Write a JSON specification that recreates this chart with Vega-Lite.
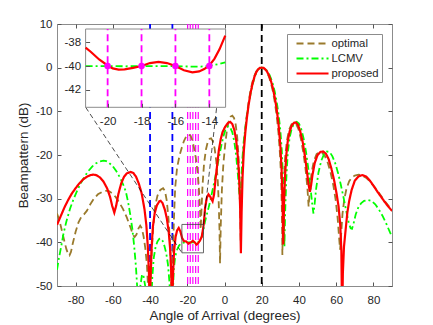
{
  "$schema": "https://vega.github.io/schema/vega-lite/v6.json",
  "width": 335,
  "height": 262,
  "autosize": {"type": "none"},
  "padding": {"left": 57, "top": 24, "right": 41, "bottom": 39},
  "background": "white",
  "config": {
    "font": "Liberation Sans",
    "view": {"stroke": "#8c8c8c", "strokeWidth": 1},
    "axis": {
      "labelFont": "Liberation Sans", "labelFontSize": 11.5, "labelColor": "#262626",
      "titleFont": "Liberation Sans", "titleFontSize": 13.4, "titleFontWeight": "normal", "titleColor": "#262626",
      "domainColor": "#8c8c8c", "tickColor": "#555555", "tickSize": -4, "grid": false,
      "labelExpr": "replace(datum.label, '−', '-')"
    },
    "legend": {
      "orient": "top-right", "offset": 10, "symbolType": "M0,0H6", "symbolSize": 114,
      "symbolStrokeWidth": 2, "labelFont": "Liberation Sans", "labelFontSize": 11.3, "labelColor": "#262626",
      "strokeColor": "#8c8c8c", "fillColor": "white", "padding": 3, "rowPadding": 3, "labelOffset": 28.5
    }
  },
  "datasets": {
    "curves": [
      {"s":"optimal","x":-90,"y":-33.4},{"s":"optimal","x":-89,"y":-34.6},{"s":"optimal","x":-88,"y":-36.2},{"s":"optimal","x":-87,"y":-38},{"s":"optimal","x":-86,"y":-39.8},{"s":"optimal","x":-85,"y":-41.5},{"s":"optimal","x":-84,"y":-42.7},{"s":"optimal","x":-83.3,"y":-43},{"s":"optimal","x":-82.5,"y":-42.2},{"s":"optimal","x":-81.5,"y":-40.2},{"s":"optimal","x":-80,"y":-37.6},{"s":"optimal","x":-78.5,"y":-35.5},{"s":"optimal","x":-77,"y":-34.2},{"s":"optimal","x":-75.5,"y":-33.6},{"s":"optimal","x":-74,"y":-32.8},{"s":"optimal","x":-72,"y":-31.2},{"s":"optimal","x":-70,"y":-29.9},{"s":"optimal","x":-68,"y":-29},{"s":"optimal","x":-66,"y":-28.5},{"s":"optimal","x":-64,"y":-28.2},{"s":"optimal","x":-62.3,"y":-28.2},{"s":"optimal","x":-60.5,"y":-28.7},{"s":"optimal","x":-58.5,"y":-29.6},{"s":"optimal","x":-56.5,"y":-30.9},{"s":"optimal","x":-54.5,"y":-32.4},{"s":"optimal","x":-52.5,"y":-34.3},{"s":"optimal","x":-50.5,"y":-36.6},{"s":"optimal","x":-49.2,"y":-38.3},{"s":"optimal","x":-48.3,"y":-38.8},{"s":"optimal","x":-47.3,"y":-38.2},{"s":"optimal","x":-46.2,"y":-36.8},{"s":"optimal","x":-45.3,"y":-36.2},{"s":"optimal","x":-44.4,"y":-36.8},{"s":"optimal","x":-43.5,"y":-38.6},{"s":"optimal","x":-42.6,"y":-41.2},{"s":"optimal","x":-41.7,"y":-45},{"s":"optimal","x":-41,"y":-51},{"s":"optimal","x":-40.5,"y":-58},{"s":"optimal","x":-39.8,"y":-50},{"s":"optimal","x":-39.1,"y":-42},{"s":"optimal","x":-38.3,"y":-36.5},{"s":"optimal","x":-37.2,"y":-31.5},{"s":"optimal","x":-36,"y":-29.3},{"s":"optimal","x":-34.5,"y":-28},{"s":"optimal","x":-33,"y":-27.6},{"s":"optimal","x":-32,"y":-28.2},{"s":"optimal","x":-31,"y":-30.5},{"s":"optimal","x":-30.1,"y":-34.5},{"s":"optimal","x":-29.3,"y":-40},{"s":"optimal","x":-28.7,"y":-47},{"s":"optimal","x":-28.3,"y":-57},{"s":"optimal","x":-27.8,"y":-45},{"s":"optimal","x":-27.2,"y":-35},{"s":"optimal","x":-26.5,"y":-27.5},{"s":"optimal","x":-25.5,"y":-23},{"s":"optimal","x":-24.2,"y":-20.2},{"s":"optimal","x":-23,"y":-18.4},{"s":"optimal","x":-21.8,"y":-16.8},{"s":"optimal","x":-20.5,"y":-15.7},{"s":"optimal","x":-19.3,"y":-15.3},{"s":"optimal","x":-18.2,"y":-15.6},{"s":"optimal","x":-17.3,"y":-16.6},{"s":"optimal","x":-16.3,"y":-18.5},{"s":"optimal","x":-15.3,"y":-21},{"s":"optimal","x":-14.4,"y":-24},{"s":"optimal","x":-13.7,"y":-28},{"s":"optimal","x":-13.1,"y":-33},{"s":"optimal","x":-12.8,"y":-37},{"s":"optimal","x":-12.4,"y":-33},{"s":"optimal","x":-11.8,"y":-27},{"s":"optimal","x":-11,"y":-22},{"s":"optimal","x":-10,"y":-18.8},{"s":"optimal","x":-9,"y":-17},{"s":"optimal","x":-8,"y":-16.3},{"s":"optimal","x":-7.2,"y":-16.2},{"s":"optimal","x":-6.3,"y":-16.8},{"s":"optimal","x":-5.3,"y":-18.5},{"s":"optimal","x":-4.4,"y":-21.5},{"s":"optimal","x":-3.6,"y":-26},{"s":"optimal","x":-3.1,"y":-31},{"s":"optimal","x":-2.7,"y":-37},{"s":"optimal","x":-2.4,"y":-44.8},{"s":"optimal","x":-2,"y":-36},{"s":"optimal","x":-1.4,"y":-28},{"s":"optimal","x":-0.6,"y":-22},{"s":"optimal","x":0.4,"y":-17.5},{"s":"optimal","x":1.3,"y":-14.3},{"s":"optimal","x":2.3,"y":-12.2},{"s":"optimal","x":3.3,"y":-11.2},{"s":"optimal","x":4.2,"y":-11},{"s":"optimal","x":5.1,"y":-11.5},{"s":"optimal","x":6,"y":-13},{"s":"optimal","x":6.8,"y":-15.8},{"s":"optimal","x":7.5,"y":-20},{"s":"optimal","x":8,"y":-25},{"s":"optimal","x":8.4,"y":-31},{"s":"optimal","x":8.7,"y":-40},{"s":"optimal","x":9,"y":-31},{"s":"optimal","x":9.5,"y":-24},{"s":"optimal","x":10.2,"y":-18.5},{"s":"optimal","x":11,"y":-14.5},{"s":"optimal","x":12,"y":-10.8},{"s":"optimal","x":13,"y":-7.7},{"s":"optimal","x":14,"y":-5.2},{"s":"optimal","x":15,"y":-3.3},{"s":"optimal","x":16,"y":-1.9},{"s":"optimal","x":17,"y":-0.9},{"s":"optimal","x":18,"y":-0.3},{"s":"optimal","x":19,"y":-0.05},{"s":"optimal","x":20,"y":0},{"s":"optimal","x":21,"y":-0.1},{"s":"optimal","x":22,"y":-0.5},{"s":"optimal","x":23,"y":-1.2},{"s":"optimal","x":24,"y":-2.2},{"s":"optimal","x":25,"y":-3.6},{"s":"optimal","x":26,"y":-5.4},{"s":"optimal","x":27,"y":-7.8},{"s":"optimal","x":28,"y":-10.9},{"s":"optimal","x":29,"y":-15},{"s":"optimal","x":29.8,"y":-19.7},{"s":"optimal","x":30.4,"y":-25},{"s":"optimal","x":30.8,"y":-32},{"s":"optimal","x":31.1,"y":-42.9},{"s":"optimal","x":31.5,"y":-31},{"s":"optimal","x":32,"y":-25},{"s":"optimal","x":32.6,"y":-20.5},{"s":"optimal","x":33.5,"y":-16.8},{"s":"optimal","x":34.7,"y":-14.2},{"s":"optimal","x":36,"y":-13},{"s":"optimal","x":37.3,"y":-12.6},{"s":"optimal","x":38.5,"y":-12.9},{"s":"optimal","x":39.7,"y":-14},{"s":"optimal","x":41,"y":-16.2},{"s":"optimal","x":42.3,"y":-19.3},{"s":"optimal","x":43.5,"y":-23},{"s":"optimal","x":44.5,"y":-27.3},{"s":"optimal","x":45.2,"y":-31.8},{"s":"optimal","x":45.9,"y":-27.5},{"s":"optimal","x":46.8,"y":-24},{"s":"optimal","x":48,"y":-21.4},{"s":"optimal","x":49.5,"y":-19.8},{"s":"optimal","x":51,"y":-19.3},{"s":"optimal","x":52.5,"y":-19.5},{"s":"optimal","x":54,"y":-20.3},{"s":"optimal","x":55.5,"y":-21.8},{"s":"optimal","x":57,"y":-24},{"s":"optimal","x":58.5,"y":-27},{"s":"optimal","x":59.8,"y":-30.5},{"s":"optimal","x":60.8,"y":-34.5},{"s":"optimal","x":61.5,"y":-38.5},{"s":"optimal","x":62.1,"y":-41.7},{"s":"optimal","x":62.7,"y":-38},{"s":"optimal","x":63.4,"y":-33.5},{"s":"optimal","x":64.3,"y":-30.3},{"s":"optimal","x":65.5,"y":-27.8},{"s":"optimal","x":67,"y":-26},{"s":"optimal","x":68.5,"y":-25.1},{"s":"optimal","x":70,"y":-24.7},{"s":"optimal","x":72,"y":-24.5},{"s":"optimal","x":74,"y":-24.7},{"s":"optimal","x":76,"y":-25.2},{"s":"optimal","x":78,"y":-26},{"s":"optimal","x":80,"y":-27},{"s":"optimal","x":82,"y":-28.1},{"s":"optimal","x":84,"y":-29.3},{"s":"optimal","x":86,"y":-30.5},{"s":"optimal","x":88,"y":-31.6},{"s":"optimal","x":90,"y":-32.8},

      {"s":"LCMV","x":-90,"y":-46.3},{"s":"LCMV","x":-89,"y":-43.7},{"s":"LCMV","x":-88,"y":-41.5},{"s":"LCMV","x":-86.5,"y":-38},{"s":"LCMV","x":-85,"y":-35.3},{"s":"LCMV","x":-83,"y":-32.3},{"s":"LCMV","x":-81,"y":-30},{"s":"LCMV","x":-79,"y":-28},{"s":"LCMV","x":-77,"y":-26.3},{"s":"LCMV","x":-75,"y":-24.8},{"s":"LCMV","x":-73,"y":-23.6},{"s":"LCMV","x":-71,"y":-22.6},{"s":"LCMV","x":-69,"y":-21.9},{"s":"LCMV","x":-67,"y":-21.5},{"s":"LCMV","x":-65,"y":-21.3},{"s":"LCMV","x":-63.5,"y":-21.4},{"s":"LCMV","x":-62,"y":-21.8},{"s":"LCMV","x":-60,"y":-22.6},{"s":"LCMV","x":-58,"y":-23.8},{"s":"LCMV","x":-56,"y":-25.3},{"s":"LCMV","x":-54.5,"y":-26.7},{"s":"LCMV","x":-53,"y":-28.4},{"s":"LCMV","x":-51.7,"y":-31},{"s":"LCMV","x":-50.5,"y":-34},{"s":"LCMV","x":-49.5,"y":-37},{"s":"LCMV","x":-48.5,"y":-41},{"s":"LCMV","x":-47.6,"y":-45.5},{"s":"LCMV","x":-46.8,"y":-51},{"s":"LCMV","x":-46,"y":-56},{"s":"LCMV","x":-45.2,"y":-50},{"s":"LCMV","x":-44.3,"y":-47.3},{"s":"LCMV","x":-43.5,"y":-47.8},{"s":"LCMV","x":-42.6,"y":-50},{"s":"LCMV","x":-41.8,"y":-54},{"s":"LCMV","x":-41,"y":-60},{"s":"LCMV","x":-39.4,"y":-55},{"s":"LCMV","x":-38.8,"y":-48},{"s":"LCMV","x":-38,"y":-43.5},{"s":"LCMV","x":-37,"y":-41},{"s":"LCMV","x":-36,"y":-39.8},{"s":"LCMV","x":-35,"y":-39.2},{"s":"LCMV","x":-34.3,"y":-39.1},{"s":"LCMV","x":-33.3,"y":-39.6},{"s":"LCMV","x":-32.3,"y":-40.8},{"s":"LCMV","x":-31.3,"y":-42.5},{"s":"LCMV","x":-30.4,"y":-45},{"s":"LCMV","x":-29.6,"y":-49},{"s":"LCMV","x":-29,"y":-55},{"s":"LCMV","x":-28.4,"y":-60},{"s":"LCMV","x":-27.8,"y":-52},{"s":"LCMV","x":-27.2,"y":-46},{"s":"LCMV","x":-26.5,"y":-43.3},{"s":"LCMV","x":-25.6,"y":-41.8},{"s":"LCMV","x":-24.5,"y":-40.8},{"s":"LCMV","x":-23.5,"y":-40.3},{"s":"LCMV","x":-22.5,"y":-40.1},{"s":"LCMV","x":-21.3,"y":-40},{"s":"LCMV","x":-20,"y":-40},{"s":"LCMV","x":-18,"y":-40},{"s":"LCMV","x":-16,"y":-40},{"s":"LCMV","x":-14.5,"y":-40.05},{"s":"LCMV","x":-13.5,"y":-39.8},{"s":"LCMV","x":-12.5,"y":-39},{"s":"LCMV","x":-11.5,"y":-37.5},{"s":"LCMV","x":-10.5,"y":-35.3},{"s":"LCMV","x":-9.5,"y":-33.6},{"s":"LCMV","x":-8.5,"y":-32},{"s":"LCMV","x":-7.5,"y":-30.2},{"s":"LCMV","x":-6.5,"y":-28.2},{"s":"LCMV","x":-5.5,"y":-26.2},{"s":"LCMV","x":-4.5,"y":-24},{"s":"LCMV","x":-3.5,"y":-21.8},{"s":"LCMV","x":-2.5,"y":-19.5},{"s":"LCMV","x":-1.5,"y":-17.4},{"s":"LCMV","x":-0.5,"y":-15.6},{"s":"LCMV","x":0.5,"y":-14.2},{"s":"LCMV","x":1.8,"y":-13.4},{"s":"LCMV","x":3,"y":-13.6},{"s":"LCMV","x":4.2,"y":-14.8},{"s":"LCMV","x":5.3,"y":-17},{"s":"LCMV","x":6.3,"y":-20.3},{"s":"LCMV","x":7.2,"y":-24.5},{"s":"LCMV","x":7.9,"y":-28.5},{"s":"LCMV","x":8.4,"y":-31},{"s":"LCMV","x":8.9,"y":-27},{"s":"LCMV","x":9.5,"y":-21.5},{"s":"LCMV","x":10.3,"y":-17},{"s":"LCMV","x":11.2,"y":-13.7},{"s":"LCMV","x":12,"y":-11.2},{"s":"LCMV","x":13,"y":-8.4},{"s":"LCMV","x":14,"y":-6},{"s":"LCMV","x":15,"y":-4},{"s":"LCMV","x":16,"y":-2.4},{"s":"LCMV","x":17,"y":-1.2},{"s":"LCMV","x":18,"y":-0.45},{"s":"LCMV","x":19,"y":-0.1},{"s":"LCMV","x":20,"y":0},{"s":"LCMV","x":21,"y":-0.05},{"s":"LCMV","x":22,"y":-0.3},{"s":"LCMV","x":23,"y":-0.8},{"s":"LCMV","x":24,"y":-1.5},{"s":"LCMV","x":25,"y":-2.5},{"s":"LCMV","x":26,"y":-3.8},{"s":"LCMV","x":27,"y":-5.5},{"s":"LCMV","x":28,"y":-7.7},{"s":"LCMV","x":29,"y":-10.5},{"s":"LCMV","x":30,"y":-14.3},{"s":"LCMV","x":30.8,"y":-19},{"s":"LCMV","x":31.5,"y":-26},{"s":"LCMV","x":31.9,"y":-33},{"s":"LCMV","x":32.2,"y":-41},{"s":"LCMV","x":32.6,"y":-33},{"s":"LCMV","x":33.2,"y":-25.5},{"s":"LCMV","x":34,"y":-19.5},{"s":"LCMV","x":35,"y":-16},{"s":"LCMV","x":36.2,"y":-13.8},{"s":"LCMV","x":37.5,"y":-12.7},{"s":"LCMV","x":38.8,"y":-12.4},{"s":"LCMV","x":40,"y":-12.8},{"s":"LCMV","x":41.2,"y":-14},{"s":"LCMV","x":42.5,"y":-16.2},{"s":"LCMV","x":43.8,"y":-19.3},{"s":"LCMV","x":45,"y":-23},{"s":"LCMV","x":46.2,"y":-27.5},{"s":"LCMV","x":47.2,"y":-31.5},{"s":"LCMV","x":47.8,"y":-33.4},{"s":"LCMV","x":48.4,"y":-31.3},{"s":"LCMV","x":49.3,"y":-27.5},{"s":"LCMV","x":50.5,"y":-24},{"s":"LCMV","x":52,"y":-21.3},{"s":"LCMV","x":53.5,"y":-19.8},{"s":"LCMV","x":55,"y":-19.2},{"s":"LCMV","x":56.5,"y":-19.3},{"s":"LCMV","x":58,"y":-20.3},{"s":"LCMV","x":59.5,"y":-21.9},{"s":"LCMV","x":61,"y":-24.1},{"s":"LCMV","x":62.5,"y":-26.8},{"s":"LCMV","x":64,"y":-29.8},{"s":"LCMV","x":65.5,"y":-33},{"s":"LCMV","x":66.8,"y":-35.6},{"s":"LCMV","x":67.8,"y":-36.8},{"s":"LCMV","x":68.5,"y":-36.9},{"s":"LCMV","x":69.3,"y":-35.8},{"s":"LCMV","x":70.5,"y":-33.6},{"s":"LCMV","x":72,"y":-31.9},{"s":"LCMV","x":73.5,"y":-31},{"s":"LCMV","x":75,"y":-30.5},{"s":"LCMV","x":77,"y":-30.3},{"s":"LCMV","x":79,"y":-30.5},{"s":"LCMV","x":81,"y":-31.3},{"s":"LCMV","x":83,"y":-32.5},{"s":"LCMV","x":85,"y":-34},{"s":"LCMV","x":87,"y":-35.8},{"s":"LCMV","x":89,"y":-37.8},{"s":"LCMV","x":90,"y":-38.7},

      {"s":"proposed","x":-90,"y":-36},{"s":"proposed","x":-88,"y":-34},{"s":"proposed","x":-86,"y":-32},{"s":"proposed","x":-84,"y":-30.3},{"s":"proposed","x":-82,"y":-28.8},{"s":"proposed","x":-80,"y":-27.6},{"s":"proposed","x":-78,"y":-26.5},{"s":"proposed","x":-76,"y":-25.6},{"s":"proposed","x":-74,"y":-25},{"s":"proposed","x":-72,"y":-24.6},{"s":"proposed","x":-70.5,"y":-24.5},{"s":"proposed","x":-69,"y":-24.6},{"s":"proposed","x":-67,"y":-25.1},{"s":"proposed","x":-65,"y":-26.1},{"s":"proposed","x":-63,"y":-27.7},{"s":"proposed","x":-61.5,"y":-29.6},{"s":"proposed","x":-60.3,"y":-31.7},{"s":"proposed","x":-59.2,"y":-33.2},{"s":"proposed","x":-58.2,"y":-31.6},{"s":"proposed","x":-57,"y":-28.9},{"s":"proposed","x":-55.5,"y":-26.5},{"s":"proposed","x":-54,"y":-25},{"s":"proposed","x":-52.5,"y":-24.2},{"s":"proposed","x":-50.5,"y":-23.9},{"s":"proposed","x":-49,"y":-24.1},{"s":"proposed","x":-47.5,"y":-25},{"s":"proposed","x":-46,"y":-26.6},{"s":"proposed","x":-44.5,"y":-28.8},{"s":"proposed","x":-43,"y":-32.4},{"s":"proposed","x":-42,"y":-36},{"s":"proposed","x":-41.2,"y":-41},{"s":"proposed","x":-40.6,"y":-47},{"s":"proposed","x":-40.2,"y":-56},{"s":"proposed","x":-39.7,"y":-48},{"s":"proposed","x":-39.2,"y":-41.5},{"s":"proposed","x":-38.5,"y":-36.5},{"s":"proposed","x":-37.5,"y":-33.3},{"s":"proposed","x":-36.3,"y":-31.5},{"s":"proposed","x":-35,"y":-30.6},{"s":"proposed","x":-34.3,"y":-30.5},{"s":"proposed","x":-33.3,"y":-31},{"s":"proposed","x":-32,"y":-32.6},{"s":"proposed","x":-31,"y":-34.5},{"s":"proposed","x":-30,"y":-37.5},{"s":"proposed","x":-29.2,"y":-41.5},{"s":"proposed","x":-28.6,"y":-47},{"s":"proposed","x":-28.2,"y":-56},{"s":"proposed","x":-27.7,"y":-48},{"s":"proposed","x":-27.1,"y":-42},{"s":"proposed","x":-26.3,"y":-38.8},{"s":"proposed","x":-25.5,"y":-37.3},{"s":"proposed","x":-24.6,"y":-36.7},{"s":"proposed","x":-23.7,"y":-37.5},{"s":"proposed","x":-22.8,"y":-39},{"s":"proposed","x":-21.8,"y":-39.7},{"s":"proposed","x":-20.6,"y":-39.8},{"s":"proposed","x":-19.4,"y":-40.3},{"s":"proposed","x":-18,"y":-40},{"s":"proposed","x":-17,"y":-39.65},{"s":"proposed","x":-16,"y":-40},{"s":"proposed","x":-15,"y":-40.5},{"s":"proposed","x":-14,"y":-40.1},{"s":"proposed","x":-13.2,"y":-39.6},{"s":"proposed","x":-12.2,"y":-38.7},{"s":"proposed","x":-11.2,"y":-36},{"s":"proposed","x":-10.4,"y":-32},{"s":"proposed","x":-9.5,"y":-29.8},{"s":"proposed","x":-8.6,"y":-29},{"s":"proposed","x":-7.6,"y":-29.6},{"s":"proposed","x":-6.4,"y":-30.6},{"s":"proposed","x":-5.6,"y":-29},{"s":"proposed","x":-4.8,"y":-25.5},{"s":"proposed","x":-4,"y":-22.5},{"s":"proposed","x":-3,"y":-18.8},{"s":"proposed","x":-2,"y":-16.3},{"s":"proposed","x":-1,"y":-14.7},{"s":"proposed","x":0.4,"y":-13.5},{"s":"proposed","x":1.8,"y":-12.7},{"s":"proposed","x":3,"y":-12.4},{"s":"proposed","x":4.2,"y":-12.9},{"s":"proposed","x":5.3,"y":-14.3},{"s":"proposed","x":6.3,"y":-16.7},{"s":"proposed","x":7.2,"y":-20.5},{"s":"proposed","x":7.9,"y":-25.5},{"s":"proposed","x":8.4,"y":-32},{"s":"proposed","x":8.8,"y":-42.5},{"s":"proposed","x":9.2,"y":-33},{"s":"proposed","x":9.7,"y":-25},{"s":"proposed","x":10.4,"y":-19},{"s":"proposed","x":11.2,"y":-14.8},{"s":"proposed","x":12,"y":-11.6},{"s":"proposed","x":13,"y":-8.4},{"s":"proposed","x":14,"y":-5.8},{"s":"proposed","x":15,"y":-3.8},{"s":"proposed","x":16,"y":-2.2},{"s":"proposed","x":17,"y":-1.1},{"s":"proposed","x":18,"y":-0.4},{"s":"proposed","x":19,"y":-0.05},{"s":"proposed","x":20,"y":0},{"s":"proposed","x":21,"y":-0.05},{"s":"proposed","x":22,"y":-0.4},{"s":"proposed","x":23,"y":-1},{"s":"proposed","x":24,"y":-1.9},{"s":"proposed","x":25,"y":-3.1},{"s":"proposed","x":26,"y":-4.7},{"s":"proposed","x":27,"y":-6.8},{"s":"proposed","x":28,"y":-9.4},{"s":"proposed","x":29,"y":-12.8},{"s":"proposed","x":30,"y":-17.8},{"s":"proposed","x":30.7,"y":-23.5},{"s":"proposed","x":31.2,"y":-31},{"s":"proposed","x":31.6,"y":-40.5},{"s":"proposed","x":32,"y":-31},{"s":"proposed","x":32.5,"y":-25},{"s":"proposed","x":33.2,"y":-20},{"s":"proposed","x":34,"y":-16.8},{"s":"proposed","x":35,"y":-14.6},{"s":"proposed","x":36.2,"y":-13.2},{"s":"proposed","x":37.5,"y":-12.6},{"s":"proposed","x":38.5,"y":-12.6},{"s":"proposed","x":39.5,"y":-13.1},{"s":"proposed","x":40.7,"y":-14.6},{"s":"proposed","x":42,"y":-17},{"s":"proposed","x":43.2,"y":-20.2},{"s":"proposed","x":44.3,"y":-23.8},{"s":"proposed","x":45.2,"y":-26.8},{"s":"proposed","x":45.9,"y":-28.4},{"s":"proposed","x":46.5,"y":-27},{"s":"proposed","x":47.3,"y":-24.5},{"s":"proposed","x":48.5,"y":-21.8},{"s":"proposed","x":50,"y":-20},{"s":"proposed","x":51.5,"y":-19.3},{"s":"proposed","x":53,"y":-19.2},{"s":"proposed","x":54.5,"y":-19.7},{"s":"proposed","x":56,"y":-21},{"s":"proposed","x":57.5,"y":-23.2},{"s":"proposed","x":59,"y":-26},{"s":"proposed","x":60.2,"y":-28.8},{"s":"proposed","x":61.3,"y":-31.8},{"s":"proposed","x":62.2,"y":-36},{"s":"proposed","x":62.8,"y":-42},{"s":"proposed","x":63.2,"y":-58},{"s":"proposed","x":63.6,"y":-47},{"s":"proposed","x":64.2,"y":-41},{"s":"proposed","x":65,"y":-37.5},{"s":"proposed","x":66,"y":-33.2},{"s":"proposed","x":67,"y":-30.5},{"s":"proposed","x":68.3,"y":-28},{"s":"proposed","x":70,"y":-25.9},{"s":"proposed","x":72,"y":-24.9},{"s":"proposed","x":74,"y":-24.6},{"s":"proposed","x":76,"y":-24.9},{"s":"proposed","x":78,"y":-25.8},{"s":"proposed","x":80,"y":-27},{"s":"proposed","x":82,"y":-28.3},{"s":"proposed","x":84,"y":-29.5},{"s":"proposed","x":86,"y":-30.7},{"s":"proposed","x":88,"y":-31.8},{"s":"proposed","x":90,"y":-32.8}
    ],
    "inset": [
      {"s":"LCMV","x":-21.3,"y":-40},{"s":"LCMV","x":-20,"y":-40},{"s":"LCMV","x":-19,"y":-40.02},{"s":"LCMV","x":-18,"y":-40},{"s":"LCMV","x":-17,"y":-40},{"s":"LCMV","x":-16,"y":-40},{"s":"LCMV","x":-15,"y":-40.05},{"s":"LCMV","x":-14.5,"y":-40.04},{"s":"LCMV","x":-14,"y":-39.98},{"s":"LCMV","x":-13.5,"y":-39.85},{"s":"LCMV","x":-13.06,"y":-39.7},
      {"s":"proposed","x":-21.3,"y":-38.45},{"s":"proposed","x":-21,"y":-38.8},{"s":"proposed","x":-20.5,"y":-39.45},{"s":"proposed","x":-20,"y":-39.95},{"s":"proposed","x":-19.7,"y":-40.2},{"s":"proposed","x":-19.35,"y":-40.3},{"s":"proposed","x":-19,"y":-40.28},{"s":"proposed","x":-18.5,"y":-40.15},{"s":"proposed","x":-18,"y":-40},{"s":"proposed","x":-17.5,"y":-39.75},{"s":"proposed","x":-17,"y":-39.65},{"s":"proposed","x":-16.5,"y":-39.75},{"s":"proposed","x":-16,"y":-40},{"s":"proposed","x":-15.5,"y":-40.35},{"s":"proposed","x":-15,"y":-40.52},{"s":"proposed","x":-14.6,"y":-40.45},{"s":"proposed","x":-14.3,"y":-40.25},{"s":"proposed","x":-14,"y":-39.95},{"s":"proposed","x":-13.7,"y":-39.4},{"s":"proposed","x":-13.4,"y":-38.6},{"s":"proposed","x":-13.06,"y":-37.45}
    ],
    "vblue": [{"x":-40},{"x":-28}],
    "vmag": [{"x":-19.8},{"x":-18.4},{"x":-17},{"x":-15.5},{"x":-14.1}],
    "vblack": [{"x":20}],
    "zoombox": [{"x1":-22.9,"x2":-11.3,"y1":-42.4,"y2":-35.9}],
    "conn": [{"id":1,"x":-74.6,"y":-9.07},{"id":1,"x":-22.9,"y":-42.4},{"id":2,"x":0.52,"y":8.86},{"id":2,"x":-11.3,"y":-35.9}],
    "insetbox": [{"x1":-21.3,"x2":-13.04,"y1":-43.45,"y2":-36.9}],
    "imag": [{"x":-20,"y":-40},{"x":-18,"y":-40},{"x":-16,"y":-40},{"x":-14,"y":-40}]
  },
  "layer": [
    {
      "layer": [
        {
          "data": {"name": "vblue"},
          "mark": {"type": "rule", "color": "#0000ff", "strokeWidth": 1.8, "strokeDash": [7, 4]},
          "encoding": {
            "x": {"field": "x", "type": "quantitative", "scale": {"domain": [-90, 90], "nice": false, "zero": false}, "title": "Angle of Arrival (degrees)", "axis": {"values": [-80, -60, -40, -20, 0, 20, 40, 60, 80], "labelPadding": 12, "titlePadding": 3}}
          }
        },
        {
          "data": {"name": "vmag"},
          "mark": {"type": "rule", "color": "#ff00ff", "strokeWidth": 1.2, "strokeDash": [7, 4]},
          "encoding": {
            "x": {"field": "x", "type": "quantitative", "scale": {"domain": [-90, 90], "nice": false, "zero": false}, "title": "Angle of Arrival (degrees)"}
          }
        },
        {
          "data": {"name": "vblack"},
          "mark": {"type": "rule", "color": "#000000", "strokeWidth": 1.8, "strokeDash": [7, 4]},
          "encoding": {
            "x": {"field": "x", "type": "quantitative", "scale": {"domain": [-90, 90], "nice": false, "zero": false}, "title": "Angle of Arrival (degrees)"}
          }
        },
        {
          "data": {"name": "curves"},
          "transform": [{"filter": "datum.s === 'optimal'"}],
          "mark": {"type": "line", "strokeWidth": 1.8, "clip": true},
          "encoding": {
            "x": {"field": "x", "type": "quantitative", "scale": {"domain": [-90, 90], "nice": false, "zero": false}, "title": "Angle of Arrival (degrees)"},
            "y": {"field": "y", "type": "quantitative", "scale": {"domain": [-50, 10], "nice": false, "zero": false}, "title": "Beampattern (dB)", "axis": {"values": [-50, -40, -30, -20, -10, 0, 10], "labelPadding": 9, "titlePadding": 5}},
            "color": {"field": "s", "type": "nominal", "title": null, "scale": {"domain": ["optimal", "LCMV", "proposed"], "range": ["#9a7a2c", "#00ff00", "#ff0000"]}},
            "strokeDash": {"field": "s", "type": "nominal", "title": null, "scale": {"domain": ["optimal", "LCMV", "proposed"], "range": [[7, 4], [7, 3, 2, 3], [1, 0]]}}
          }
        },
        {
          "data": {"name": "curves"},
          "transform": [{"filter": "datum.s === 'LCMV'"}],
          "mark": {"type": "line", "strokeWidth": 1.8, "clip": true},
          "encoding": {
            "x": {"field": "x", "type": "quantitative", "scale": {"domain": [-90, 90], "nice": false, "zero": false}, "title": "Angle of Arrival (degrees)"},
            "y": {"field": "y", "type": "quantitative", "scale": {"domain": [-50, 10], "nice": false, "zero": false}, "title": "Beampattern (dB)"},
            "color": {"field": "s", "type": "nominal", "title": null, "scale": {"domain": ["optimal", "LCMV", "proposed"], "range": ["#9a7a2c", "#00ff00", "#ff0000"]}},
            "strokeDash": {"field": "s", "type": "nominal", "title": null, "scale": {"domain": ["optimal", "LCMV", "proposed"], "range": [[7, 4], [7, 3, 2, 3], [1, 0]]}}
          }
        },
        {
          "data": {"name": "curves"},
          "transform": [{"filter": "datum.s === 'proposed'"}],
          "mark": {"type": "line", "strokeWidth": 2.2, "clip": true},
          "encoding": {
            "x": {"field": "x", "type": "quantitative", "scale": {"domain": [-90, 90], "nice": false, "zero": false}, "title": "Angle of Arrival (degrees)"},
            "y": {"field": "y", "type": "quantitative", "scale": {"domain": [-50, 10], "nice": false, "zero": false}, "title": "Beampattern (dB)"},
            "color": {"field": "s", "type": "nominal", "title": null, "scale": {"domain": ["optimal", "LCMV", "proposed"], "range": ["#9a7a2c", "#00ff00", "#ff0000"]}},
            "strokeDash": {"field": "s", "type": "nominal", "title": null, "scale": {"domain": ["optimal", "LCMV", "proposed"], "range": [[7, 4], [7, 3, 2, 3], [1, 0]]}}
          }
        },
        {
          "data": {"name": "zoombox"},
          "mark": {"type": "rect", "fill": null, "fillOpacity": 0, "stroke": "#404040", "strokeWidth": 0.8},
          "encoding": {
            "x": {"field": "x1", "type": "quantitative", "title": "Angle of Arrival (degrees)"},
            "x2": {"field": "x2"},
            "y": {"field": "y1", "type": "quantitative", "title": "Beampattern (dB)"},
            "y2": {"field": "y2"}
          }
        },
        {
          "data": {"name": "conn"},
          "mark": {"type": "line", "color": "#000000", "strokeWidth": 0.7, "strokeDash": [5, 3]},
          "encoding": {
            "x": {"field": "x", "type": "quantitative", "title": "Angle of Arrival (degrees)"},
            "y": {"field": "y", "type": "quantitative", "title": "Beampattern (dB)"},
            "detail": {"field": "id", "type": "nominal"}
          }
        }
      ]
    },
    {
      "data": {"values": [{"x": 0, "y": 0}]},
      "mark": {"type": "point", "opacity": 0},
      "encoding": {
        "x": {"field": "x", "type": "quantitative", "scale": {"domain": [-90, 90], "nice": false, "zero": false}, "axis": {"orient": "top", "values": [-80, -60, -40, -20, 0, 20, 40, 60, 80], "labels": false, "domain": false, "title": null}},
        "y": {"field": "y", "type": "quantitative", "scale": {"domain": [-50, 10], "nice": false, "zero": false}, "axis": {"orient": "right", "values": [-50, -40, -30, -20, -10, 0, 10], "labels": false, "domain": false, "title": null}}
      }
    },
    {
      "layer": [
        {
          "data": {"name": "insetbox"},
          "mark": {"type": "rect", "fill": "white", "stroke": "#8c8c8c", "strokeWidth": 1},
          "encoding": {
            "x": {"field": "x1", "type": "quantitative", "title": null, "scale": {"domain": [-21.3, -13.04], "range": [28.6, 168.6], "nice": false, "zero": false}, "axis": {"orient": "bottom", "offset": -178.7, "values": [-20, -18, -16, -14], "labelPadding": 12, "domain": false, "zindex": 1, "title": null}},
            "x2": {"field": "x2"},
            "y": {"field": "y1", "type": "quantitative", "title": null, "scale": {"domain": [-43.45, -36.9], "range": [83.3, 5], "nice": false, "zero": false}, "axis": {"orient": "left", "offset": -28.6, "values": [-42, -40, -38], "labelPadding": 9, "domain": false, "zindex": 1, "title": null}},
            "y2": {"field": "y2"}
          }
        },
        {
          "data": {"name": "inset"},
          "transform": [{"filter": "datum.s === 'LCMV'"}],
          "mark": {"type": "line", "color": "#00ff00", "strokeWidth": 1.8, "strokeDash": [7, 3, 2, 3]},
          "encoding": {
            "x": {"field": "x", "type": "quantitative", "title": null, "scale": {"domain": [-21.3, -13.04], "range": [28.6, 168.6], "nice": false, "zero": false}},
            "y": {"field": "y", "type": "quantitative", "title": null, "scale": {"domain": [-43.45, -36.9], "range": [83.3, 5], "nice": false, "zero": false}}
          }
        },
        {
          "data": {"name": "inset"},
          "transform": [{"filter": "datum.s === 'proposed'"}],
          "mark": {"type": "line", "color": "#ff0000", "strokeWidth": 2.2},
          "encoding": {
            "x": {"field": "x", "type": "quantitative", "title": null, "scale": {"domain": [-21.3, -13.04], "range": [28.6, 168.6], "nice": false, "zero": false}},
            "y": {"field": "y", "type": "quantitative", "title": null, "scale": {"domain": [-43.45, -36.9], "range": [83.3, 5], "nice": false, "zero": false}}
          }
        },
        {
          "data": {"name": "imag"},
          "mark": {"type": "rule", "color": "#ff00ff", "strokeWidth": 1.8, "strokeDash": [7, 4]},
          "encoding": {
            "x": {"field": "x", "type": "quantitative", "title": null, "scale": {"domain": [-21.3, -13.04], "range": [28.6, 168.6], "nice": false, "zero": false}},
            "y": {"datum": -43.45, "type": "quantitative", "title": null, "scale": {"domain": [-43.45, -36.9], "range": [83.3, 5], "nice": false, "zero": false}},
            "y2": {"datum": -36.9}
          }
        },
        {
          "data": {"name": "imag"},
          "mark": {"type": "circle", "color": "#ff00ff", "opacity": 1, "size": 42},
          "encoding": {
            "x": {"field": "x", "type": "quantitative", "title": null, "scale": {"domain": [-21.3, -13.04], "range": [28.6, 168.6], "nice": false, "zero": false}},
            "y": {"field": "y", "type": "quantitative", "title": null, "scale": {"domain": [-43.45, -36.9], "range": [83.3, 5], "nice": false, "zero": false}}
          }
        }
      ]
    }
  ],
  "resolve": {"scale": {"x": "independent", "y": "independent"}}
}
